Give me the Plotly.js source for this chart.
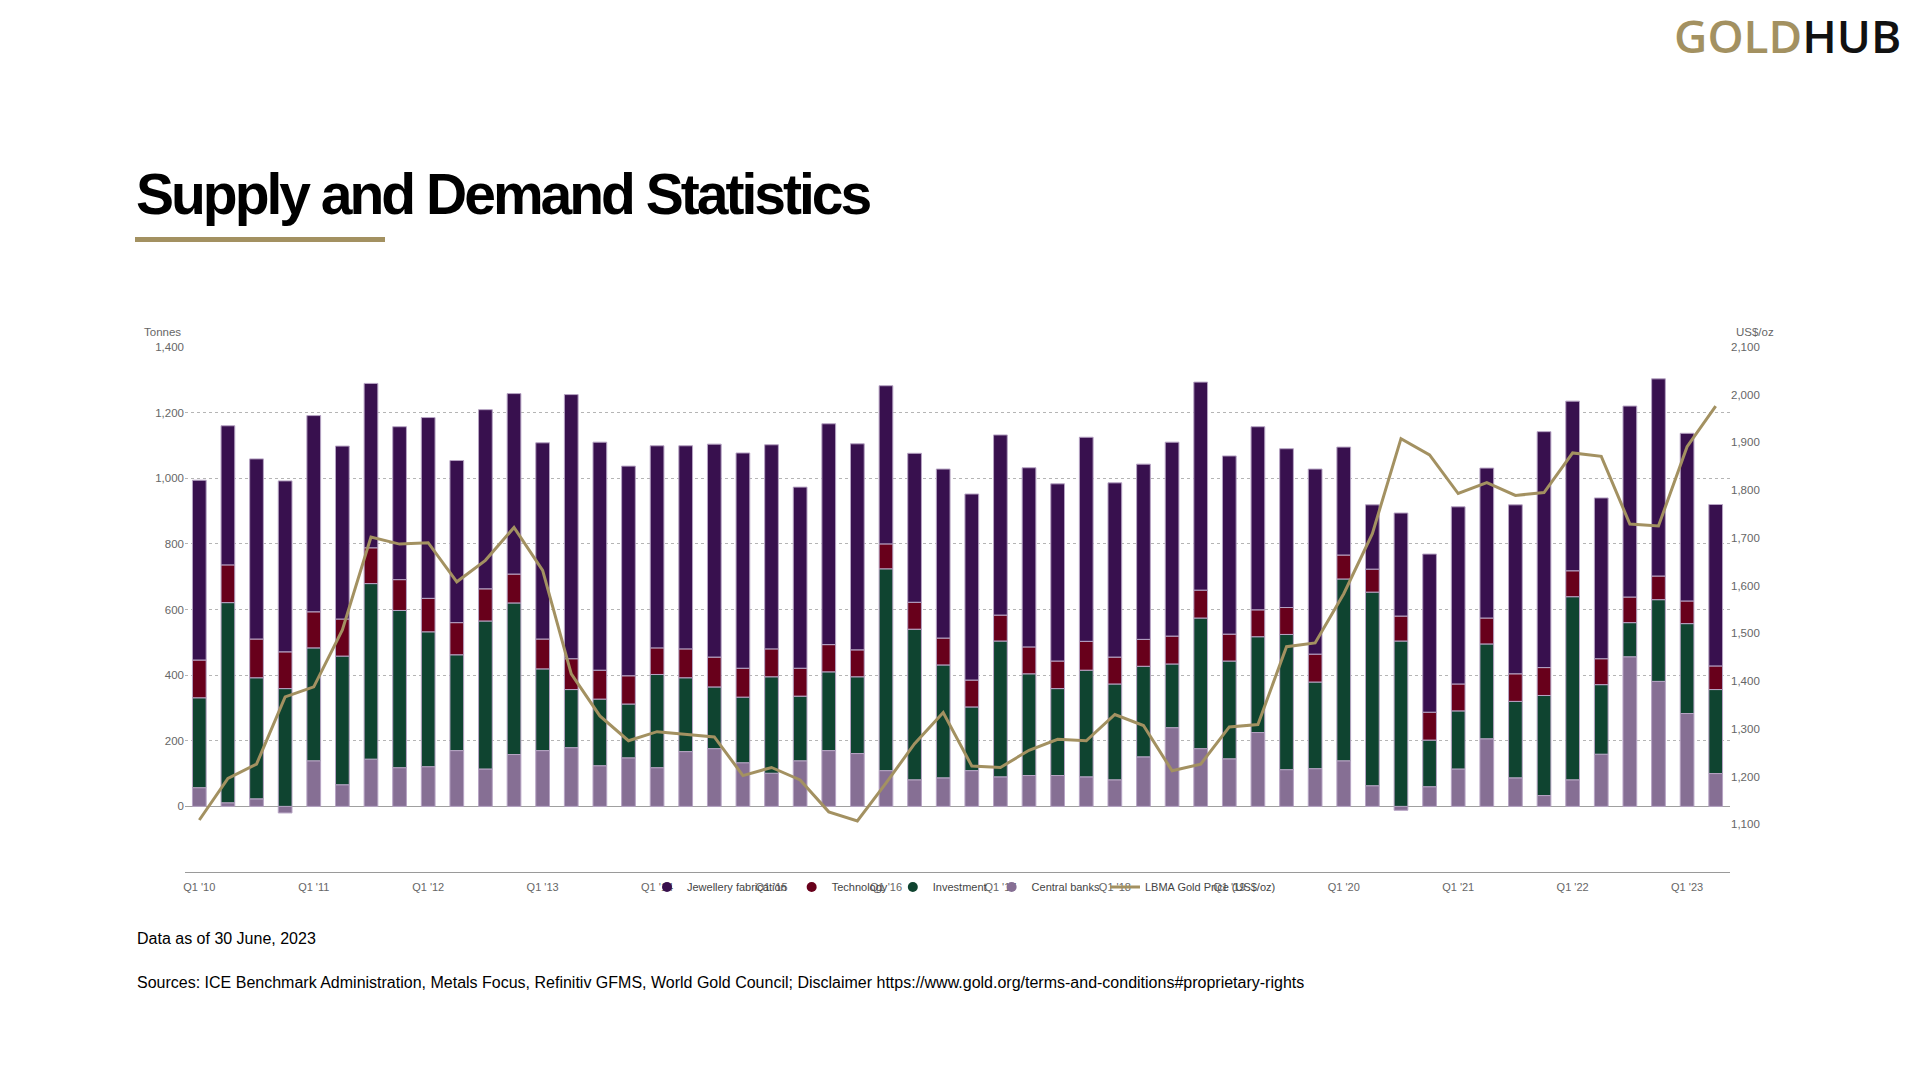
<!DOCTYPE html>
<html>
<head>
<meta charset="utf-8">
<script src="https://cdn.plot.ly/plotly-3.0.1.min.js"></script>
<style>
  html, body { margin: 0; padding: 0; background: #ffffff; overflow: hidden; }
  #chart { width: 1920px; height: 1080px; }
  .gtitle { letter-spacing: -3px; }
</style>
</head>
<body>
<div id="chart"></div>
<script>
// ---- Data ----
const quarters = [
  "Q1 '10","Q2 '10","Q3 '10","Q4 '10","Q1 '11","Q2 '11","Q3 '11","Q4 '11",
  "Q1 '12","Q2 '12","Q3 '12","Q4 '12","Q1 '13","Q2 '13","Q3 '13","Q4 '13",
  "Q1 '14","Q2 '14","Q3 '14","Q4 '14","Q1 '15","Q2 '15","Q3 '15","Q4 '15",
  "Q1 '16","Q2 '16","Q3 '16","Q4 '16","Q1 '17","Q2 '17","Q3 '17","Q4 '17",
  "Q1 '18","Q2 '18","Q3 '18","Q4 '18","Q1 '19","Q2 '19","Q3 '19","Q4 '19",
  "Q1 '20","Q2 '20","Q3 '20","Q4 '20","Q1 '21","Q2 '21","Q3 '21","Q4 '21",
  "Q1 '22","Q2 '22","Q3 '22","Q4 '22","Q1 '23","Q2 '23"
];
const xTickLabels = ["Q1 '10","Q1 '11","Q1 '12","Q1 '13","Q1 '14","Q1 '15","Q1 '16",
  "Q1 '17","Q1 '18","Q1 '19","Q1 '20","Q1 '21","Q1 '22","Q1 '23"];

const jewellery = [548,424,549,521,598,527,501,466,551,494,546,550,598,805,
  695,639,616,619,649,656,622,552,673,628,482,454,515,567,549,546,
  540,622,531,534,591,634,543,558,484,564,329,196,314,482,540,457,
  515,719,517,490,582,601,511,492];
const technology = [115,115,118,112,110,113,109,94,102,98,98,88,91,94,
  88,86,81,88,91,88,85,85,83,82,76,82,82,82,79,82,
  84,88,82,82,85,85,82,82,82,85,73,70,76,85,82,79,
  84,85,79,79,78,72,69,72];
const investment = [274,610,369,359,344,392,535,479,411,292,451,462,249,177,
  203,164,284,225,188,200,294,197,240,234,615,459,344,194,414,310,
  265,325,292,276,194,398,298,292,412,264,554,590,504,142,177,289,
  233,305,558,212,104,249,274,256];
const centralBanks = [57,11,23,-20,139,66,144,118,121,170,114,158,170,179,
  124,148,118,167,176,133,101,139,170,161,109,81,87,109,90,94,
  94,90,81,151,240,176,145,225,112,115,139,63,-12,60,114,206,
  87,33,81,159,456,381,283,100];
const goldPrice = [1109,1196,1226,1367,1388,1507,1702,1687,1690,1608,1653,1722,1632,1415,
  1327,1275,1294,1289,1283,1202,1219,1193,1126,1107,1186,1269,1334,1222,1219,1255,
  1278,1275,1330,1307,1212,1226,1304,1309,1472,1480,1583,1709,1908,1874,1793,1816,
  1789,1795,1878,1871,1729,1725,1891,1976];

const seriesNames = ["Jewellery fabrication","Technology","Investment","Central banks","LBMA Gold Price (US$/oz)"];

// ---- Styles ----
const C_JEW = '#38104E', C_TECH = '#68001B', C_INV = '#0F4430', C_CB = '#866F94', C_GOLD = '#A39161';
const BAR_LINE = {color: '#B7A4C4', width: 1};
const FONT = 'Liberation Sans, Arial, sans-serif';

// plot-area pixel box (for placing page texts)
const L = 185, R = 1730, T = 347, B = 872;
const px2x = px => (px - L) / (R - L);
const py2y = py => (B - py) / (B - T);

function barTrace(name, y, color) {
  return {type: 'bar', name: name, x: quarters, y: y, width: 0.48,
    marker: {color: color, line: BAR_LINE}, showlegend: false, hoverinfo: 'x+y+name'};
}
function legendDot(name, color) {
  return {type: 'scatter', mode: 'markers', name: name, x: [null], y: [null],
    marker: {color: color, size: 10, symbol: 'circle'}, showlegend: true, hoverinfo: 'skip'};
}

const data = [
  barTrace(seriesNames[3], centralBanks, C_CB),
  barTrace(seriesNames[2], investment, C_INV),
  barTrace(seriesNames[1], technology, C_TECH),
  barTrace(seriesNames[0], jewellery, C_JEW),
  legendDot(seriesNames[0], C_JEW),
  legendDot(seriesNames[1], C_TECH),
  legendDot(seriesNames[2], C_INV),
  legendDot(seriesNames[3], C_CB),
  {type: 'scatter', mode: 'lines', name: seriesNames[4], x: quarters, y: goldPrice, yaxis: 'y2',
   line: {color: C_GOLD, width: 3}, showlegend: true}
];

const tickFont = {family: FONT, size: 11, color: '#666666'};
const yTickFont = {family: FONT, size: 11.5, color: '#666666'};

const layout = {
  width: 1920, height: 1080,
  paper_bgcolor: '#ffffff', plot_bgcolor: '#ffffff',
  margin: {l: L, r: 1920 - R, t: T, b: 1080 - B, pad: 0},
  barmode: 'relative',
  bargap: 0.5,
  font: {family: FONT},
  title: {
    text: 'Supply and Demand Statistics',
    font: {family: FONT, size: 57, color: '#000000', weight: 700},
    xref: 'container', yref: 'container',
    x: 136 / 1920, xanchor: 'left',
    y: 1 - 194 / 1080, yanchor: 'middle'
  },
  xaxis: {
    type: 'category', categoryorder: 'array', categoryarray: quarters,
    range: [-0.5, quarters.length - 0.5],
    tickmode: 'array', tickvals: xTickLabels, ticktext: xTickLabels,
    showgrid: false, zeroline: false,
    showline: true, linecolor: '#9a9a9a', linewidth: 1,
    ticks: '', ticklabelstandoff: 5, tickfont: tickFont, fixedrange: true
  },
  yaxis: {
    range: [-200, 1400],
    tickmode: 'array', tickvals: [0, 200, 400, 600, 800, 1000, 1200, 1400],
    tickformat: ',', tickfont: yTickFont, ticks: '',
    showgrid: true, gridcolor: '#b5b5b5', gridwidth: 1, griddash: 'dot',
    zeroline: true, zerolinecolor: '#a0a0a0', zerolinewidth: 1.5,
    showline: false, fixedrange: true
  },
  yaxis2: {
    overlaying: 'y', side: 'right',
    range: [1000, 2100],
    tickmode: 'array', tickvals: [1100, 1200, 1300, 1400, 1500, 1600, 1700, 1800, 1900, 2000, 2100],
    tickformat: ',', tickfont: yTickFont, ticks: '',
    showgrid: false, zeroline: false, showline: false, fixedrange: true
  },
  legend: {
    orientation: 'h', traceorder: 'normal',
    x: px2x(647), xanchor: 'left',
    y: py2y(887), yanchor: 'middle',
    font: {family: FONT, size: 11, color: '#444444'},
    bgcolor: 'rgba(0,0,0,0)', itemwidth: 30
  },
  shapes: [
    {type: 'rect', xref: 'paper', yref: 'paper',
     x0: px2x(135), x1: px2x(385), y0: py2y(242), y1: py2y(237),
     fillcolor: C_GOLD, line: {width: 0}}
  ],
  annotations: [
    {text: 'Tonnes', xref: 'paper', yref: 'paper', x: px2x(142), y: py2y(332),
     xanchor: 'left', yanchor: 'middle', showarrow: false, font: {family: FONT, size: 11.5, color: '#666666'}},
    {text: 'US$/oz', xref: 'paper', yref: 'paper', x: px2x(1734), y: py2y(332),
     xanchor: 'left', yanchor: 'middle', showarrow: false, font: {family: FONT, size: 11.5, color: '#666666'}},
    {text: 'Data as of 30 June, 2023', xref: 'paper', yref: 'paper', x: px2x(135), y: py2y(938),
     xanchor: 'left', yanchor: 'middle', showarrow: false, font: {family: FONT, size: 16, color: '#000000'}},
    {text: 'Sources: ICE Benchmark Administration, Metals Focus, Refinitiv GFMS, World Gold Council; Disclaimer https://www.gold.org/terms-and-conditions#proprietary-rights',
     xref: 'paper', yref: 'paper', x: px2x(135), y: py2y(982),
     xanchor: 'left', yanchor: 'middle', showarrow: false, font: {family: FONT, size: 16, color: '#000000'}},
    {text: '<span style="color:#A39161">GOLD</span><span style="color:#111111">HUB</span>',
     xref: 'paper', yref: 'paper', x: px2x(1672), y: py2y(35),
     xanchor: 'left', yanchor: 'middle', showarrow: false,
     font: {family: 'Open Sans, Liberation Sans, sans-serif', size: 46, color: '#111111', weight: 600}}
  ],
  hovermode: false
};

Plotly.newPlot('chart', data, layout, {displayModeBar: false, staticPlot: true});
</script>
</body>
</html>
